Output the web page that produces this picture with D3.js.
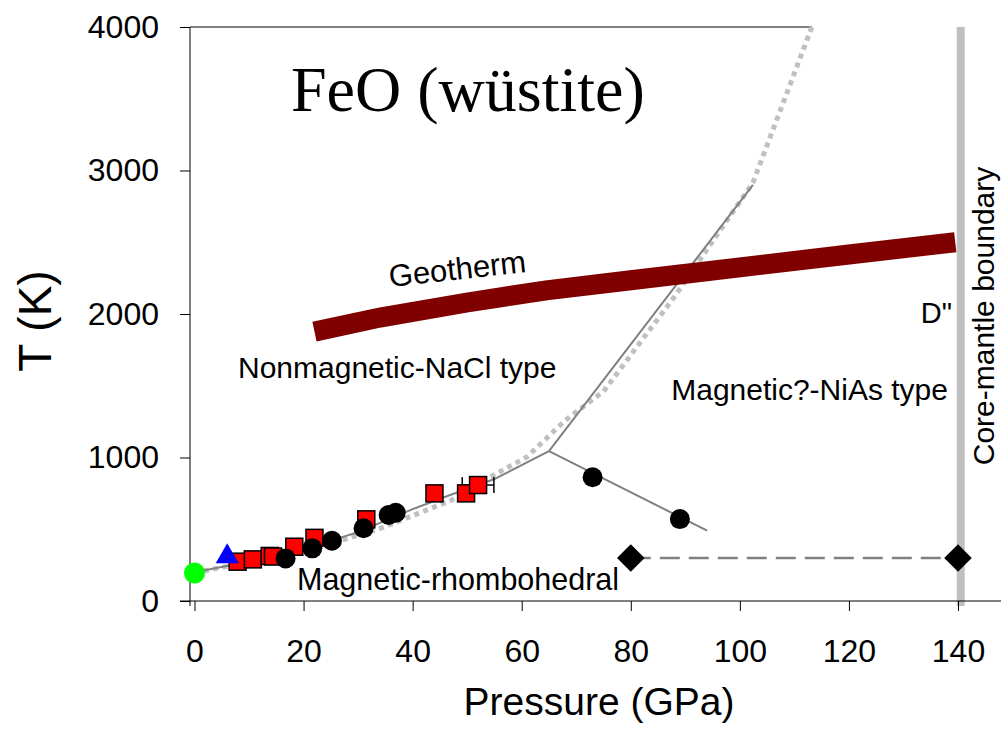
<!DOCTYPE html>
<html>
<head>
<meta charset="utf-8">
<script src="https://cdn.jsdelivr.net/npm/d3@7"></script>
<style>
body{margin:0;background:#fff}
text{font-family:"Liberation Sans",Arial,sans-serif}
</style>
</head>
<body>
<script>
const w=1001
const h=730

// phase data (pressure GPa, temperature K)
const squareP=[7.9,10.7,13.8,14.4,18.3,22.0,31.5,44.0,49.8,52.0]
const squareT=[274,290,314,310,378,440,569,750,750,808]
const squareErr=[0,0,0,1.5,0,0,0,0,0,2.9]

const circleP=[16.7,21.6,25.2,31.0,35.6,36.9,73.0,89.0]
const circleT=[297,367,420,507,599,615,862,571]

const greenP=[0]
const greenT=[195]
const triangleP=[6]
const triangleT=[310]
const diamondP=[80,140]
const diamondT=[300,300]

// boundaries
const lowP=[0,8,15,22,30,40,47,55,65]
const lowT=[200,260,310,385,480,640,740,850,1045]
const upP=[65,102.4]
const upT=[1045,2900]
const branchP=[65,94]
const branchT=[1045,490]
const dotP=[0,5,10,15,20,28,34,43,47,55,61,68,75,88,102.4,113.2]
const dotT=[195,235,265,300,345,435,505,640,700,880,1005,1260,1460,2120,2915,4000]
const geoP=[22,34,50,64.5,80,100,120,139.5]
const geoT=[1877,1975,2080,2165,2235,2325,2415,2500]
const cmbP=140.5

const xTicks=[0,20,40,60,80,100,120,140]
const yTicks=[0,1000,2000,3000,4000]

const x=d3.scaleLinear()
    .domain([0,140])
    .range([194.5,958])

const y=d3.scaleLinear()
    .domain([0,4000])
    .range([601,27])

const svg=d3.create("svg")
    .attr("width",w)
    .attr("height",h)

const zip=(a,b)=>a.map((v,i)=>[v,b[i]])
const line=d3.line().x(d=>x(d[0])).y(d=>y(d[1]))

// core-mantle boundary band
svg.append("line")
    .attr("x1",x(cmbP)).attr("x2",x(cmbP))
    .attr("y1",y(4000)).attr("y2",606)
    .attr("stroke","#c0c0c0")
    .attr("stroke-width",8)

// axes
svg.append("g")
    .attr("transform",`translate(0,${y(0)})`)
    .call(d3.axisBottom(x).tickValues(xTicks).tickFormat(d3.format("d")).tickSize(10).tickSizeOuter(0))
    .call(g=>g.select(".domain").remove())
    .call(g=>g.selectAll("text").attr("font-size",32).attr("font-family","Liberation Sans").attr("dy","1.5em").attr("fill","#000"))

svg.append("g")
    .attr("transform","translate(190,0)")
    .call(d3.axisLeft(y).tickValues(yTicks).tickFormat(d3.format("d")).tickSize(10).tickSizeOuter(0))
    .call(g=>g.select(".domain").remove())
    .call(g=>g.selectAll("text").attr("font-size",32).attr("font-family","Liberation Sans").attr("x",-31).attr("fill","#000"))

svg.append("line")
    .attr("x1",180).attr("x2",1001)
    .attr("y1",y(0)).attr("y2",y(0))
    .attr("stroke","#000")
svg.append("line")
    .attr("x1",190).attr("x2",190)
    .attr("y1",y(4000)).attr("y2",606)
    .attr("stroke","#000")
svg.append("line")
    .attr("x1",190).attr("x2",x(113.2))
    .attr("y1",y(4000)).attr("y2",y(4000))
    .attr("stroke","#000")

// boundaries
svg.append("path")
    .attr("d",line(zip(dotP,dotT)))
    .attr("fill","none")
    .attr("stroke","#c0c0c0")
    .attr("stroke-width",5)
    .attr("stroke-dasharray","5,4.5")

;[zip(lowP,lowT),zip(upP,upT),zip(branchP,branchT)].forEach(pts=>{
    svg.append("path")
        .attr("d",line(pts))
        .attr("fill","none")
        .attr("stroke","#808080")
        .attr("stroke-width",2)
})

svg.append("path")
    .attr("d",line(zip(diamondP,diamondT)))
    .attr("fill","none")
    .attr("stroke","#808080")
    .attr("stroke-width",2.5)
    .attr("stroke-dasharray","20,9")

// geotherm
svg.append("path")
    .attr("d",line(zip(geoP,geoT)))
    .attr("fill","none")
    .attr("stroke","#800000")
    .attr("stroke-width",20)

// red squares with error bars
const sq=zip(squareP,squareT).map((d,i)=>({p:d[0],t:d[1],e:squareErr[i]}))
sq.filter(d=>d.e>0).forEach(d=>{
    const g=svg.append("g").attr("stroke","#000").attr("stroke-width",1.5)
    g.append("line").attr("x1",x(d.p-d.e)).attr("x2",x(d.p+d.e)).attr("y1",y(d.t)).attr("y2",y(d.t))
    ;[d.p-d.e,d.p+d.e].forEach(p=>{
        g.append("line").attr("x1",x(p)).attr("x2",x(p)).attr("y1",y(d.t)-8).attr("y2",y(d.t)+8)
    })
})
svg.selectAll("rect.sq")
    .data(sq)
    .enter()
    .append("rect")
    .attr("x",d=>x(d.p)-8.5)
    .attr("y",d=>y(d.t)-8.5)
    .attr("width",17)
    .attr("height",17)
    .attr("fill","#ff0000")
    .attr("stroke","#000")
    .attr("stroke-width",1.5)

svg.selectAll("circle.c")
    .data(zip(circleP,circleT))
    .enter()
    .append("circle")
    .attr("cx",d=>x(d[0]))
    .attr("cy",d=>y(d[1]))
    .attr("r",10)
    .attr("fill","#000")

svg.selectAll("circle.g")
    .data(zip(greenP,greenT))
    .enter()
    .append("circle")
    .attr("cx",d=>x(d[0]))
    .attr("cy",d=>y(d[1]))
    .attr("r",10.5)
    .attr("fill","#00ff00")

svg.selectAll("path.tri")
    .data(zip(triangleP,triangleT))
    .enter()
    .append("path")
    .attr("d",d3.symbol(d3.symbolTriangle,230))
    .attr("transform",d=>`translate(${x(d[0])},${y(d[1])})`)
    .attr("fill","#0000ff")

svg.selectAll("path.dia")
    .data(zip(diamondP,diamondT))
    .enter()
    .append("path")
    .attr("d",d3.symbol(d3.symbolSquare,380))
    .attr("transform",d=>`translate(${x(d[0])},${y(d[1])}) rotate(45)`)
    .attr("fill","#000")

// labels
svg.append("text")
    .attr("x",291).attr("y",111)
    .attr("font-size",64)
    .style("font-family","'Liberation Serif','Times New Roman',serif")
    .text("FeO (wüstite)")

svg.append("text")
    .attr("transform","translate(390,287) rotate(-6.3)")
    .attr("font-size",31)
    .text("Geotherm")

svg.append("text")
    .attr("x",238).attr("y",378)
    .attr("font-size",30)
    .text("Nonmagnetic-NaCl type")

svg.append("text")
    .attr("x",948).attr("y",400)
    .attr("text-anchor","end")
    .attr("font-size",30)
    .text("Magnetic?-NiAs type")

svg.append("text")
    .attr("x",297).attr("y",590)
    .attr("font-size",30.5)
    .text("Magnetic-rhombohedral")

svg.append("text")
    .attr("x",952).attr("y",323)
    .attr("text-anchor","end")
    .attr("font-size",29)
    .text("D\"")

svg.append("text")
    .attr("transform","translate(994,316) rotate(-90)")
    .attr("text-anchor","middle")
    .attr("font-size",30)
    .text("Core-mantle boundary")

svg.append("text")
    .attr("x",599).attr("y",715)
    .attr("text-anchor","middle")
    .attr("font-size",39)
    .text("Pressure (GPa)")

svg.append("text")
    .attr("transform","translate(51,321) rotate(-90)")
    .attr("text-anchor","middle")
    .attr("font-size",46)
    .text("T (K)")

d3.select("body")
    .append(()=>svg.node())
</script>
</body>
</html>
